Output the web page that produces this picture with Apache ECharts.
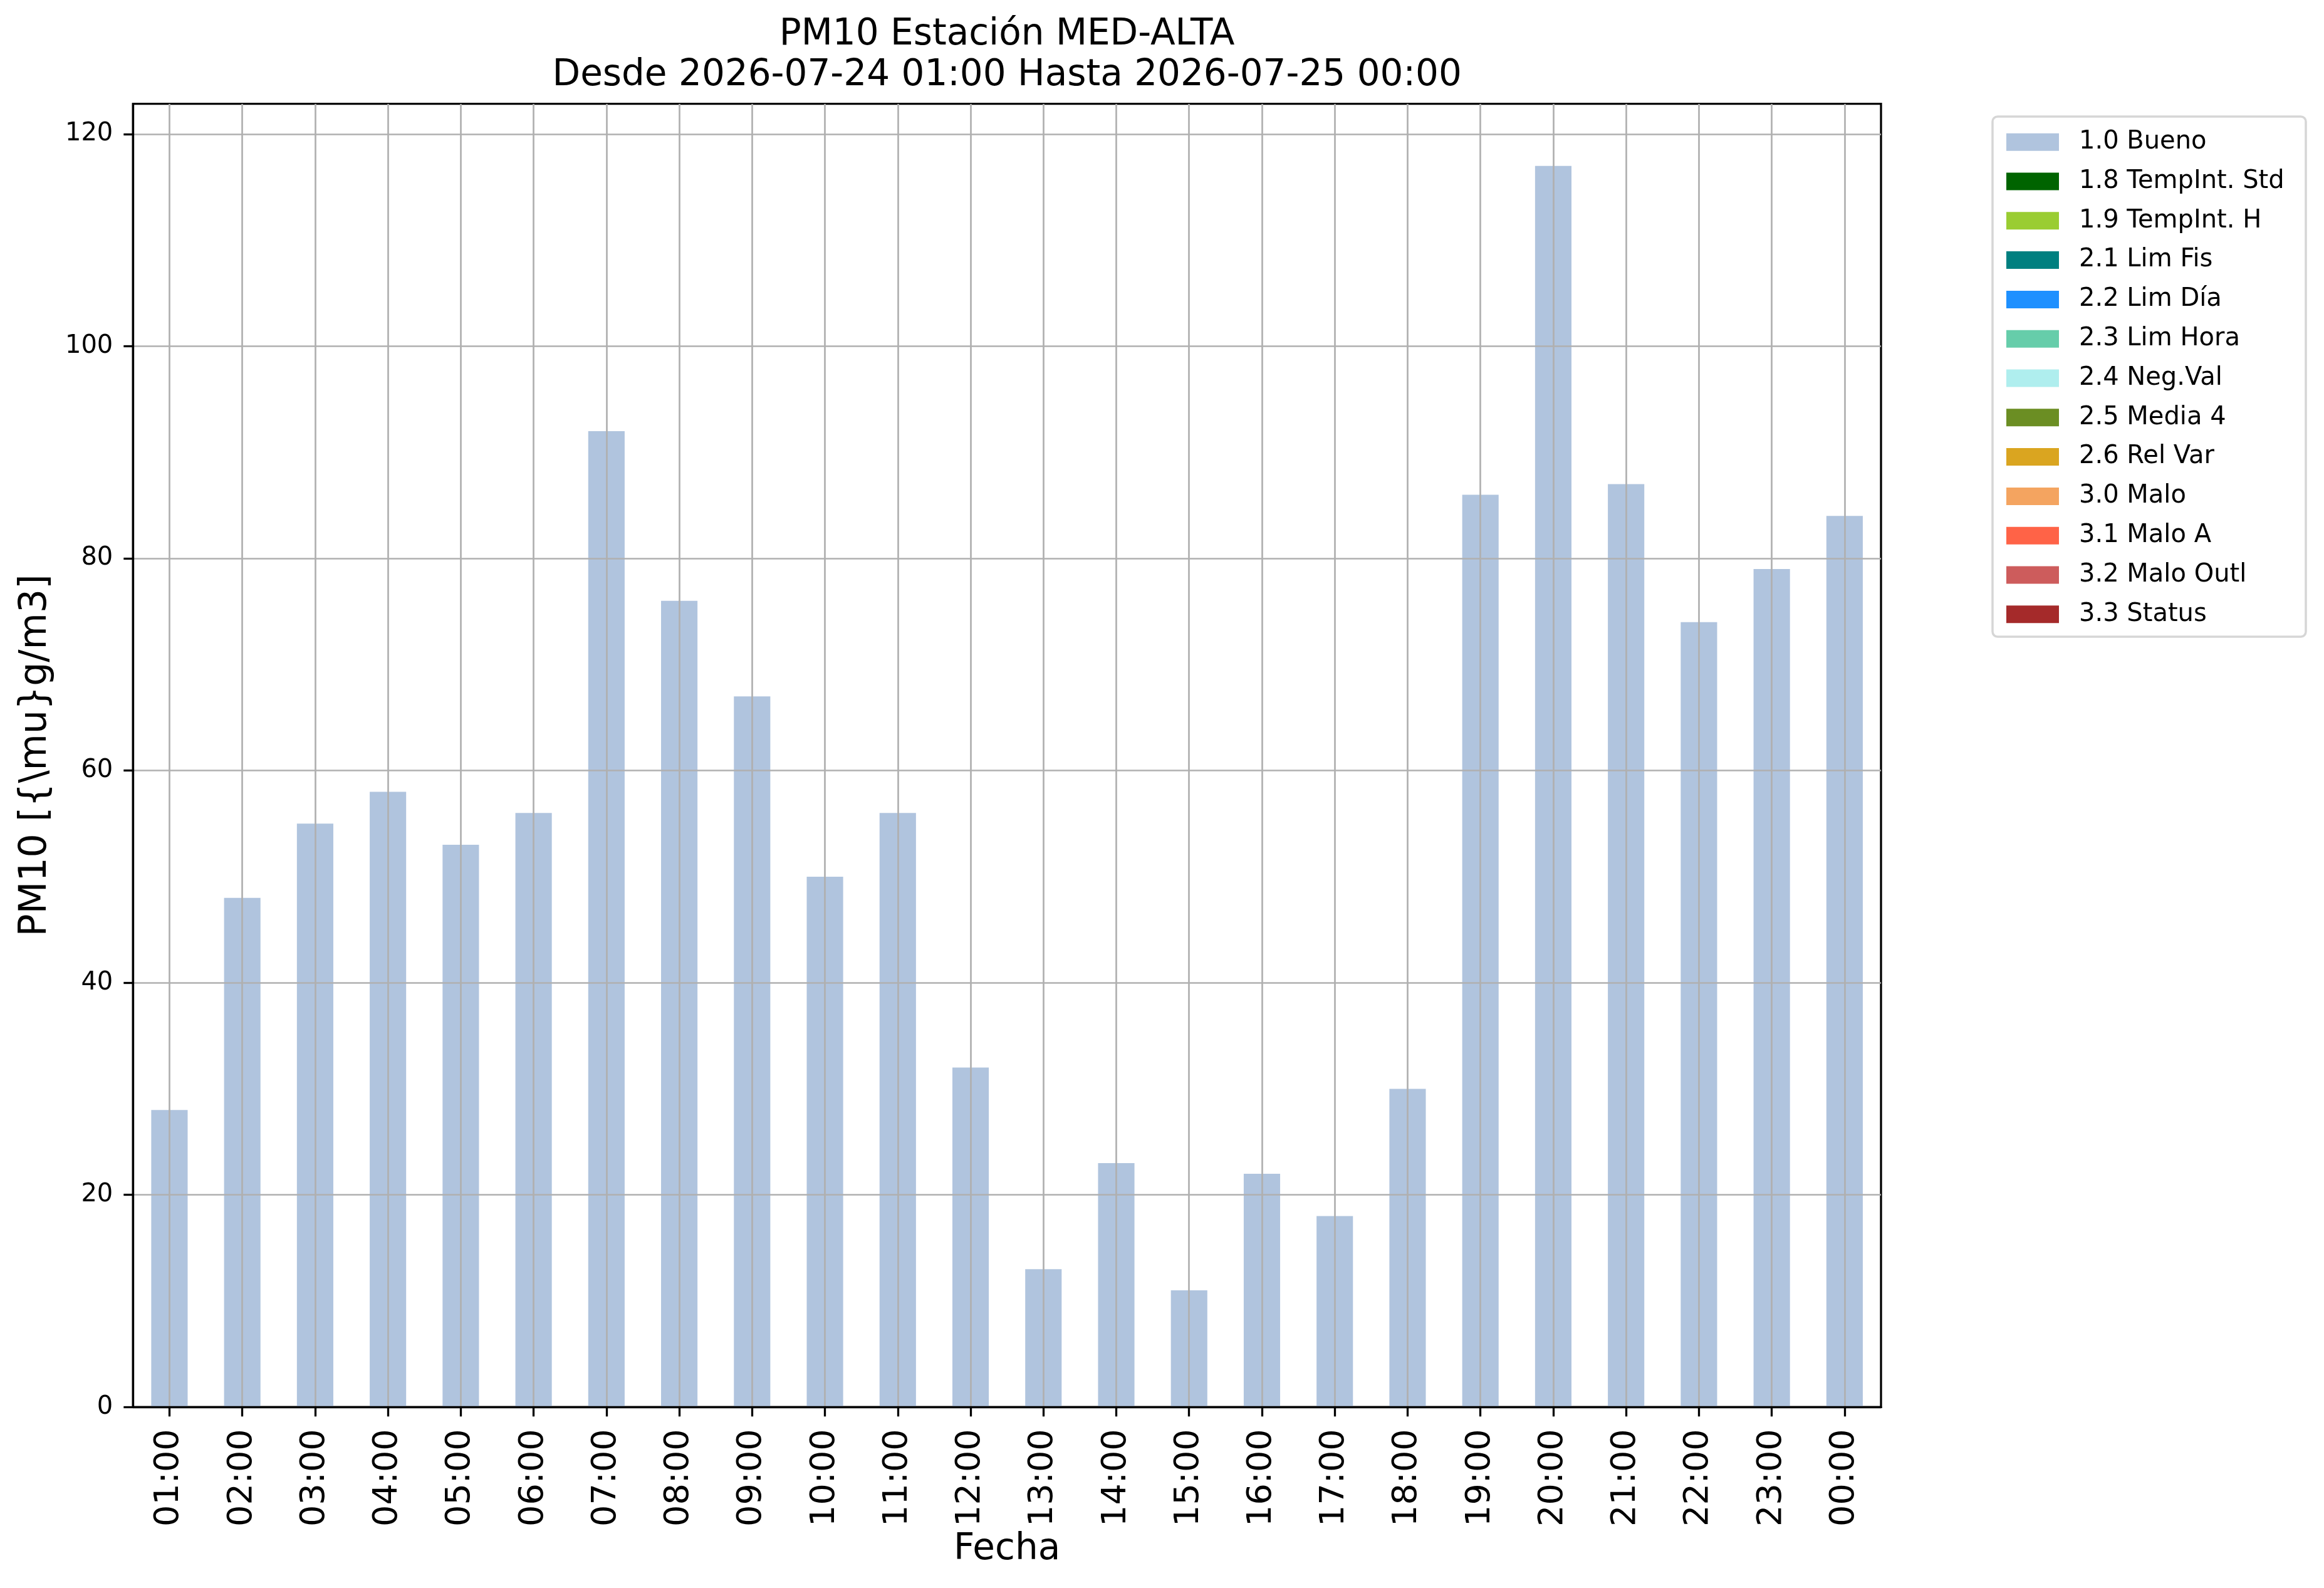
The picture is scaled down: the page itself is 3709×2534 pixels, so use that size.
<!DOCTYPE html>
<html>
<head>
<meta charset="utf-8">
<script src="https://cdn.jsdelivr.net/npm/echarts@6/dist/echarts.min.js"></script>
<style>
  html, body { margin: 0; padding: 0; background: #fff; }
  #chart { width: 3709px; height: 2534px; }
</style>
</head>
<body>
<div id="chart"></div>
<script>
// hourly PM10 values, station MED-ALTA
const hours = ['01:00','02:00','03:00','04:00','05:00','06:00','07:00','08:00','09:00','10:00','11:00','12:00',
               '13:00','14:00','15:00','16:00','17:00','18:00','19:00','20:00','21:00','22:00','23:00','00:00'];
const bueno = [28, 48, 55, 58, 53, 56, 92, 76, 67, 50, 56, 32, 13, 23, 11, 22, 18, 30, 86, 117, 87, 74, 79, 84];

// quality flags (only "Bueno" has data in this period)
const flagNames = ['1.0 Bueno','1.8 TempInt. Std','1.9 TempInt. H','2.1 Lim Fis','2.2 Lim Día','2.3 Lim Hora',
                   '2.4 Neg.Val','2.5 Media 4','2.6 Rel Var','3.0 Malo','3.1 Malo A','3.2 Malo Outl','3.3 Status'];
const flagColors = ['#b0c4de','#006400','#9acd32','#008080','#1e90ff','#66cdaa',
                    '#afeeee','#6b8e23','#daa520','#f4a460','#ff6347','#cd5c5c','#a52a2a'];
const flagData = [bueno, [], [], [], [], [], [], [], [], [], [], [], []];

const yTicks = [0, 20, 40, 60, 80, 100, 120];

const FONT = 'DejaVu Sans';
const gridLeft = 212.3, gridRight = 3002, gridTop = 165.7, gridBottom = 2245.3;

const chart = echarts.init(document.getElementById('chart'), null, { renderer: 'canvas' });

const series = flagNames.map((name, i) => ({
  name: name,
  type: 'bar',
  stack: 'flags',
  barWidth: '50%',
  itemStyle: { color: flagColors[i] },
  data: flagData[i]
}));

chart.setOption({
  animation: false,
  backgroundColor: '#fff',
  textStyle: { fontFamily: FONT, color: '#000' },
  graphic: [
    {
      type: 'rect', z: 0,
      shape: { x: 3180, y: 186, width: 500, height: 830, r: 8 },
      style: { fill: '#fff', stroke: '#d6d6d6', lineWidth: 3.5 }
    },
    {
      type: 'text', z: 5,
      x: (gridLeft + gridRight) / 2, y: 23,
      style: {
        text: 'PM10 Estación MED-ALTA\nDesde 2026-07-24 01:00 Hasta 2026-07-25 00:00',
        fontFamily: FONT, fontSize: 58, lineHeight: 65,
        fill: '#000', align: 'center', verticalAlign: 'top'
      }
    }
  ],
  grid: {
    left: gridLeft, right: 3709 - gridRight, top: gridTop, bottom: 2534 - gridBottom,
    show: true, borderColor: '#000', borderWidth: 3.3, containLabel: false
  },
  legend: {
    orient: 'vertical',
    left: 3197, top: 201.7,
    itemWidth: 84, itemHeight: 28, itemGap: 22.8,
    icon: 'rect',
    selectedMode: false,
    z: 6,
    textStyle: { fontFamily: FONT, fontSize: 40, lineHeight: 40, color: '#000', padding: [0, 0, 0, 27] },
    data: flagNames
  },
  xAxis: {
    type: 'category',
    data: hours,
    boundaryGap: true,
    z: 3,
    name: 'Fecha',
    nameLocation: 'middle',
    nameGap: 195,
    nameTextStyle: { fontFamily: FONT, fontSize: 58, color: '#000' },
    axisLine: { show: true, lineStyle: { color: '#000', width: 3.3 } },
    axisTick: { show: true, alignWithLabel: true, interval: 0, length: 15, lineStyle: { color: '#000', width: 3.3 } },
    axisLabel: { rotate: 90, interval: 0, fontSize: 54, margin: 35, color: '#000', fontFamily: FONT },
    splitLine: { show: true, alignWithLabel: true, interval: 0, lineStyle: { color: '#b0b0b0', width: 2.7 } }
  },
  yAxis: {
    type: 'value',
    min: 0, max: 122.85, interval: 20,
    z: 3,
    name: 'PM10 [{\\mu}g/m3]',
    nameLocation: 'middle',
    nameGap: 125,
    nameTextStyle: { fontFamily: FONT, fontSize: 60, color: '#000' },
    axisLine: { show: true, lineStyle: { color: '#000', width: 3.3 } },
    axisTick: { show: true, length: 15, customValues: yTicks, lineStyle: { color: '#000', width: 3.3 } },
    axisLabel: { fontSize: 40, margin: 32, color: '#000', fontFamily: FONT, customValues: yTicks },
    splitLine: { show: true, lineStyle: { color: '#b0b0b0', width: 2.7 } }
  },
  series: series
});
</script>
</body>
</html>
